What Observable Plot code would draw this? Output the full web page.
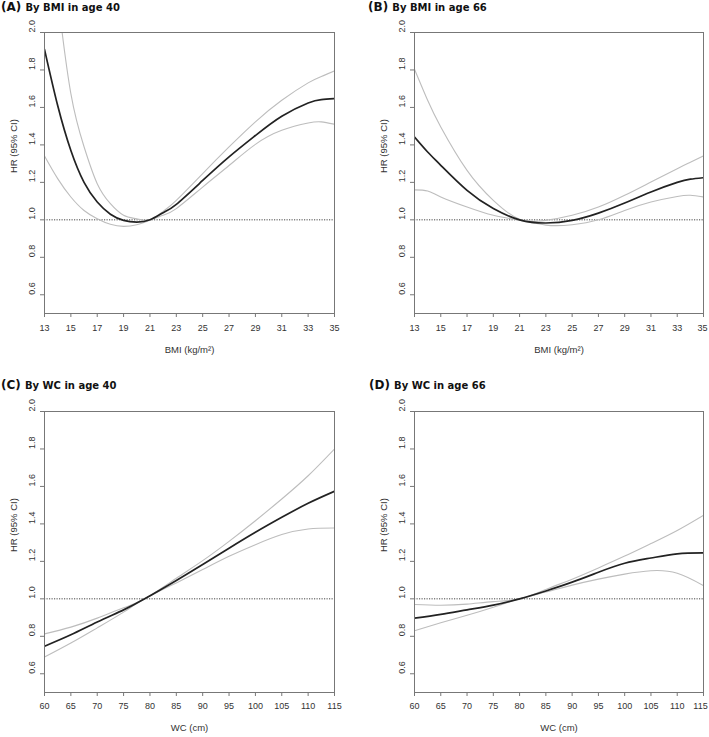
<!DOCTYPE html>
<html>
<head>
<meta charset="utf-8">
<script src="https://cdn.jsdelivr.net/npm/d3@7"></script>
<script src="https://cdn.jsdelivr.net/npm/@observablehq/plot@0.6"></script>
<style>
  html, body { margin: 0; padding: 0; background: #fff; }
  #root { position: relative; width: 709px; height: 737px; overflow: hidden; }
  .panel { position: absolute; }
  .title { position: absolute; font-family: "DejaVu Sans", sans-serif; font-weight: bold; font-size: 12px; line-height: 13px; color: #111; white-space: nowrap; }
  .title .rest { font-size: 10px; }
</style>
</head>
<body>
<div id="root"></div>
<script>
// ---- data ----
const yTicks = [0.6, 0.8, 1.0, 1.2, 1.4, 1.6, 1.8, 2.0];
const bmiTicks = [13, 15, 17, 19, 21, 23, 25, 27, 29, 31, 33, 35];
const wcTicks = [60, 65, 70, 75, 80, 85, 90, 95, 100, 105, 110, 115];

// (A) BMI, age 40
const bmiA = [13, 14, 15, 16, 17, 18, 19, 20, 21, 22, 23, 25, 27, 29, 31, 33, 34, 35];
const a40Main = [1.91, 1.61, 1.37, 1.20, 1.095, 1.03, 0.997, 0.988, 1.0, 1.038, 1.083, 1.21, 1.336, 1.45, 1.553, 1.624, 1.642, 1.647];
const a40Hi   = [2.85, 2.2, 1.674, 1.39, 1.193, 1.086, 1.024, 1.005, 1.0, 1.045, 1.104, 1.247, 1.389, 1.523, 1.638, 1.731, 1.765, 1.795];
const a40Lo   = [1.341, 1.22, 1.122, 1.05, 1.006, 0.976, 0.965, 0.974, 0.998, 1.025, 1.06, 1.175, 1.29, 1.403, 1.478, 1.517, 1.523, 1.51];

// (B) BMI, age 66
const bmiB = [13, 14, 15, 17, 19, 21, 23, 25, 27, 29, 31, 33, 34, 35];
const b66Main = [1.442, 1.362, 1.291, 1.157, 1.06, 1.0, 0.983, 0.997, 1.036, 1.09, 1.149, 1.2, 1.217, 1.225];
const b66Hi   = [1.804, 1.638, 1.496, 1.264, 1.104, 1.003, 0.997, 1.024, 1.068, 1.131, 1.202, 1.273, 1.307, 1.341];
const b66Lo   = [1.16, 1.154, 1.122, 1.068, 1.024, 0.998, 0.972, 0.974, 1.0, 1.05, 1.095, 1.125, 1.131, 1.122];

// (C) WC, age 40
const wcC = [60, 65, 70, 75, 79, 85, 90, 95, 100, 105, 110, 115];
const c40Main = [0.747, 0.808, 0.876, 0.941, 1.0, 1.098, 1.183, 1.27, 1.355, 1.435, 1.51, 1.574];
const c40Hi   = [0.813, 0.849, 0.897, 0.952, 1.0, 1.11, 1.204, 1.307, 1.417, 1.533, 1.657, 1.8];
const c40Lo   = [0.689, 0.764, 0.845, 0.929, 1.0, 1.085, 1.156, 1.227, 1.289, 1.343, 1.373, 1.378];

// (D) WC, age 66
const wcD = [60, 65, 70, 75, 80, 85, 90, 95, 100, 105, 110, 115];
const d66Main = [0.897, 0.917, 0.941, 0.966, 1.0, 1.042, 1.089, 1.142, 1.19, 1.218, 1.24, 1.245];
const d66Hi   = [0.97, 0.966, 0.972, 0.985, 1.0, 1.05, 1.105, 1.165, 1.228, 1.295, 1.365, 1.446];
const d66Lo   = [0.83, 0.872, 0.912, 0.955, 1.0, 1.036, 1.073, 1.105, 1.132, 1.15, 1.137, 1.071];

// ---- drawing ----
function panel(o) {
  const rows = o.xs.map((x, i) => ({x, main: o.main[i], lo: o.lo[i], hi: o.hi[i]}));
  const last = o.xTicks[o.xTicks.length - 1];
  const inner = o.xTicks.slice(0, -1);
  return Plot.plot({
    width: o.w, height: o.h,
    marginLeft: o.ml, marginRight: o.mr, marginTop: o.mt, marginBottom: o.mb,
    style: {fontFamily: "'Liberation Sans', Arial, sans-serif", fontSize: "9px", color: "#333", background: "transparent", overflow: "visible"},
    x: {domain: [o.xTicks[0], last]},
    y: {domain: [0.5, 2.0]},
    marks: [
      Plot.ruleY([1], {stroke: "#444", strokeDasharray: "1.2,1.3", strokeWidth: 1}),
      Plot.line(rows, {x: "x", y: "lo", curve: "natural", stroke: "#bdbdbd", strokeWidth: 1.1, clip: true}),
      Plot.line(rows, {x: "x", y: "hi", curve: "natural", stroke: "#bdbdbd", strokeWidth: 1.1, clip: true}),
      Plot.line(rows, {x: "x", y: "main", curve: "natural", stroke: "#222", strokeWidth: 1.7, clip: true}),
      Plot.frame({stroke: "#777", strokeWidth: 1}),
      Plot.axisX({ticks: o.xTicks, tickSize: 4, text: null, label: null, stroke: "#777"}),
      Plot.text(inner, {x: d => d, text: d => String(d), frameAnchor: "bottom", dy: o.tickDy, fill: "#333"}),
      Plot.text([last], {x: d => d, text: d => String(d), frameAnchor: "bottom", dy: o.tickDy, dx: o.lastDx, fill: "#333"}),
      Plot.axisY({ticks: yTicks, tickSize: 4, text: null, label: null, stroke: "#777"}),
      Plot.text(yTicks, {y: d => d, text: d => d.toFixed(1), frameAnchor: "left", dx: -12, rotate: -90, fill: "#333"}),
      Plot.text([o.xLabel], {text: d => d, frameAnchor: "bottom", dy: o.xDy, fill: "#333", fontSize: 9.5}),
      Plot.text(["HR (95% CI)"], {text: d => d, frameAnchor: "left", dx: -31, rotate: -90, fill: "#333", fontSize: 9.5})
    ]
  });
}

const root = document.getElementById("root");
function place(node, left, top) {
  const d = document.createElement("div");
  d.className = "panel";
  d.style.left = left + "px";
  d.style.top = top + "px";
  d.appendChild(node);
  root.appendChild(d);
}
function title(letter, text, left, top) {
  const d = document.createElement("div");
  d.className = "title";
  d.style.left = left + "px";
  d.style.top = top + "px";
  const a = document.createElement("span");
  a.textContent = "(" + letter + ") ";
  const b = document.createElement("span");
  b.className = "rest";
  b.textContent = text;
  d.appendChild(a);
  d.appendChild(b);
  root.appendChild(d);
}

place(panel({xs: bmiA, main: a40Main, lo: a40Lo, hi: a40Hi, xTicks: bmiTicks, xLabel: "BMI (kg/m²)",
  w: 355, h: 365, ml: 44, mr: 21, mt: 32, mb: 52, xDy: 39, tickDy: 17, lastDx: 0}), 0, 0);
place(panel({xs: bmiB, main: b66Main, lo: b66Lo, hi: b66Hi, xTicks: bmiTicks, xLabel: "BMI (kg/m²)",
  w: 354, h: 365, ml: 59, mr: 6, mt: 32, mb: 52, xDy: 39, tickDy: 17, lastDx: -1}), 355, 0);
place(panel({xs: wcC, main: c40Main, lo: c40Lo, hi: c40Hi, xTicks: wcTicks, xLabel: "WC (cm)",
  w: 355, h: 372, ml: 44, mr: 21, mt: 46, mb: 45, xDy: 38, tickDy: 16, lastDx: 0}), 0, 365);
place(panel({xs: wcD, main: d66Main, lo: d66Lo, hi: d66Hi, xTicks: wcTicks, xLabel: "WC (cm)",
  w: 354, h: 372, ml: 59, mr: 6, mt: 46, mb: 45, xDy: 38, tickDy: 16, lastDx: -3}), 355, 365);

title("A", "By BMI in age 40", 1, 1);
title("B", "By BMI in age 66", 368, 1);
title("C", "By WC in age 40", 1, 379);
title("D", "By WC in age 66", 369, 379);
</script>
</body>
</html>
